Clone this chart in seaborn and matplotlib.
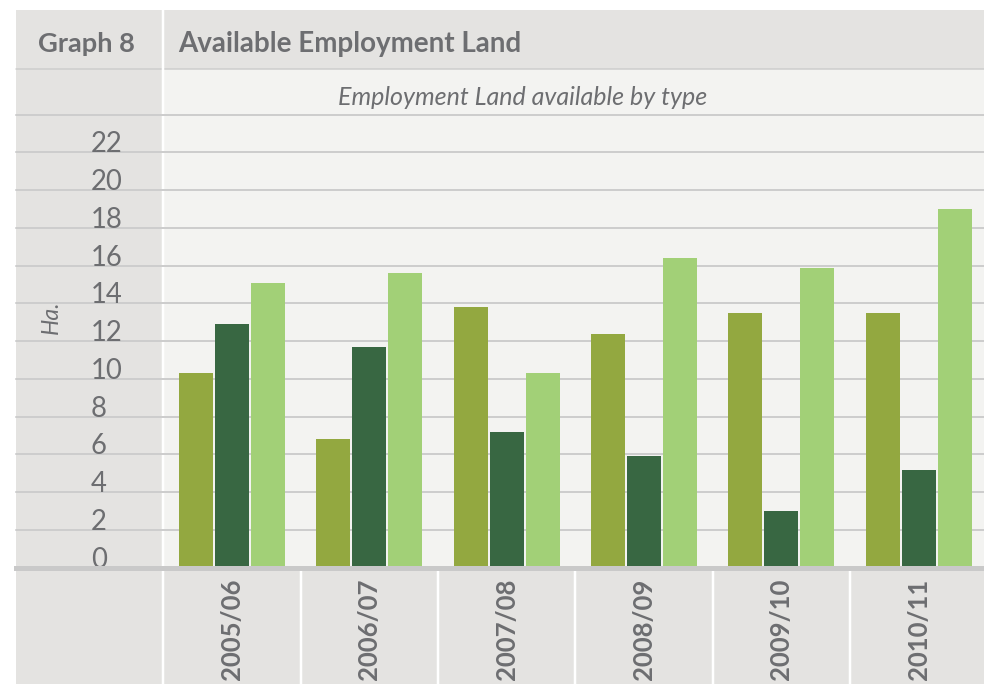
import numpy as np
import pandas as pd
import matplotlib
matplotlib.use("Agg")
import matplotlib.pyplot as plt
import matplotlib.transforms as mtransforms
from matplotlib.patches import Rectangle
from matplotlib.lines import Line2D
import seaborn as sns

# ---- data -------------------------------------------------------------
periods = ["2005/06", "2006/07", "2007/08", "2008/09", "2009/10", "2010/11"]
land_types = ["B1", "B2", "B8"]
b1_ha = [10.3, 6.8, 13.8, 12.4, 13.5, 13.5]
b2_ha = [12.9, 11.7, 7.2, 5.9, 3.0, 5.2]
b8_ha = [15.1, 15.6, 10.3, 16.4, 15.9, 19.0]

y_ticks = list(range(0, 25, 2))
y_tick_labels = [str(v) for v in range(0, 23, 2)] + [""]

graph_number = "Graph 8"
title = "Available Employment Land"
subtitle = "Employment Land available by type"
y_label = "Ha."

# ---- style ------------------------------------------------------------
bar_colors = ["#93a840", "#386742", "#a2d077"]
TEXT = "#6d6e71"
PANEL = "#e4e3e1"
PLOT_BG = "#f3f3f1"
GRID = "#cdcdcd"
BASELINE = "#c9c9c9"

W, H, DPI = 984, 684, 100
PT = 72 / DPI  # points per pixel


def fx(px):
    return px / W


def fy(py):
    return 1 - py / H


sns.set_theme(style="white")
plt.rcParams["font.family"] = ["Lato", "DejaVu Sans"]

df = pd.DataFrame(
    {"period": periods, "B1": b1_ha, "B2": b2_ha, "B8": b8_ha}
).melt(id_vars="period", var_name="use", value_name="hectares")

# ---- layout (pixels) --------------------------------------------------
x_left, x_right = 16, 984
y_top, y_zero = 114.6, 567.7
cat_px = 137.36
first_edge = 163.3

fig = plt.figure(figsize=(W / DPI, H / DPI), dpi=DPI)
fig.patch.set_facecolor("white")

# panel backgrounds
fig.add_artist(Rectangle((fx(x_left), fy(684)), fx(x_right) - fx(x_left), fy(10) - fy(684),
                         transform=fig.transFigure, facecolor=PANEL, edgecolor="none", zorder=-10))
fig.add_artist(Rectangle((fx(first_edge), fy(y_zero)), fx(x_right) - fx(first_edge), fy(69) - fy(y_zero),
                         transform=fig.transFigure, facecolor=PLOT_BG, edgecolor="none", zorder=-9))
fig.add_artist(Line2D([fx(x_left), fx(x_right)], [fy(69), fy(69)], transform=fig.transFigure,
                      color=GRID, lw=1.5 * PT, zorder=-5))
fig.add_artist(Line2D([fx(first_edge)] * 2, [fy(10), fy(684)], transform=fig.transFigure,
                      color="white", lw=2.5 * PT, zorder=-4, solid_capstyle="butt"))

ax = fig.add_axes([fx(x_left), fy(y_zero), fx(x_right) - fx(x_left), fy(y_top) - fy(y_zero)])
ax.set_facecolor("none")

sns.barplot(data=df, x="period", y="hectares", hue="use", hue_order=land_types,
            palette=bar_colors, saturation=1, width=0.786, gap=0.055,
            errorbar=None, legend=False, linewidth=0, ax=ax)

ax.set_xlim(-0.5 - (first_edge - x_left) / cat_px, -0.5 + (x_right - first_edge) / cat_px)
ax.set_ylim(0, 24)
ax.set_xlabel("")
ax.set_ylabel("")

# grid and baseline
ax.set_axisbelow(True)
ax.yaxis.grid(True, color=GRID, lw=2 * PT)
ax.xaxis.grid(False)
for side in ("top", "right", "left"):
    ax.spines[side].set_visible(False)
ax.spines["bottom"].set_color(BASELINE)
ax.spines["bottom"].set_linewidth(5 * PT)

# y ticks inside the left column
ax.set_yticks(y_ticks, labels=y_tick_labels)
ax.tick_params(axis="y", length=0, pad=-(91 - x_left) * PT, labelsize=27.5 * PT, labelcolor=TEXT)
for t in ax.get_yticklabels():
    t.set_ha("left")
    t.set_va("baseline")
    t.set_fontweight("normal")
for gl in ax.get_ygridlines():
    gl.set_clip_on(False)

# category labels in the bottom row
ax.set_xticks(range(len(periods)), labels=periods)
ax.tick_params(axis="x", length=0, pad=(680 - y_zero) * PT, labelsize=25.7 * PT,
               labelcolor=TEXT, labelrotation=90)
for t in ax.get_xticklabels():
    t.set_va("bottom")
    t.set_ha("center")
    t.set_fontweight("bold")

# white separators between category cells
blend = mtransforms.blended_transform_factory(ax.transData, fig.transFigure)
for k in range(1, len(periods)):
    ax.plot([k - 0.5, k - 0.5], [fy(571), fy(684)], transform=blend, color="white",
            lw=2.5 * PT, clip_on=False, solid_capstyle="butt")

# header texts
fig.text(fx(38), fy(51.7), graph_number, fontsize=27.3 * PT, fontweight="bold",
         color=TEXT, ha="left", va="baseline")
fig.text(fx(178), fy(52), title, fontsize=27.8 * PT, fontweight="bold",
         color=TEXT, ha="left", va="baseline")
fig.text(fx(522.5), fy(105), subtitle, fontsize=25 * PT, style="italic",
         color=TEXT, ha="center", va="baseline")
fig.text(fx(51), fy(317), y_label, fontsize=23 * PT, style="italic", rotation=90,
         color=TEXT, ha="center", va="center")

fig.savefig("out.png", dpi=DPI)
